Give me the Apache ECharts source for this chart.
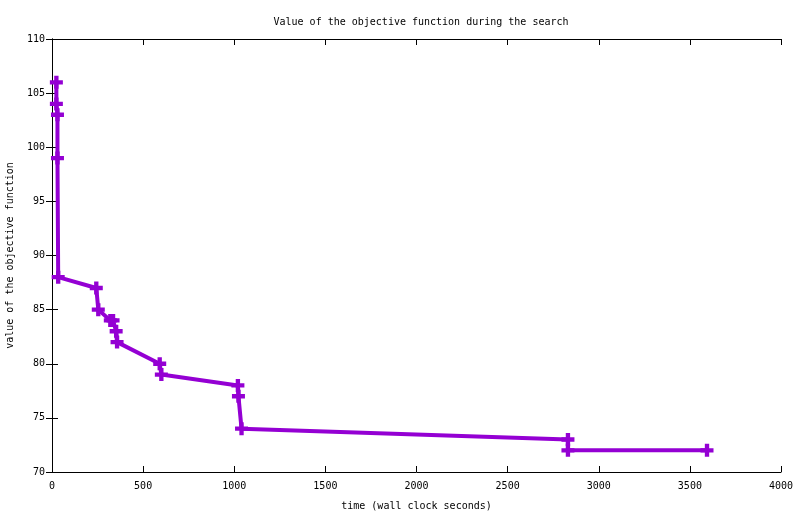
<!DOCTYPE html>
<html>
<head>
<meta charset="utf-8">
<script src="https://cdn.jsdelivr.net/npm/echarts@6/dist/echarts.min.js"></script>
<style>html,body{margin:0;padding:0;background:#fff;}#c{width:800px;height:514px;}</style>
</head>
<body>
<div id="c"></div>
<script>
var times  = [24, 24, 30, 30, 34, 243, 254, 320, 335, 352, 357, 591, 600, 1020, 1023, 1040, 2831, 2831, 3594];
var values = [106, 104, 103, 99, 88, 87, 85, 84, 84, 83, 82, 80, 79, 78, 77, 74, 73, 72, 72];
var titleText = 'Value of the objective function during the search';
var xName = 'time (wall clock seconds)';
var yName = 'value of the objective function';

var font = 'DejaVu Sans Mono';
var data = times.map(function (t, i) { return [t, values[i]]; });
var chart = echarts.init(document.getElementById('c'), null, {renderer: 'canvas'});
var tickStyle = {show: true, inside: true, length: 6, lineStyle: {color: '#000', width: 1}};
var lineStyle = {show: true, lineStyle: {color: '#000', width: 1}};
var plain = function (v) { return String(v); };
chart.setOption({
  animation: false,
  backgroundColor: '#fff',
  title: {
    text: titleText, left: 416, top: 12, textAlign: 'center',
    textStyle: {fontFamily: font, fontSize: 10, fontWeight: 'normal', color: '#000'}
  },
  grid: {left: 52, right: 19, top: 39, bottom: 42, containLabel: false, outerBoundsMode: 'none'},
  xAxis: [{
    type: 'value', min: 0, max: 4000, interval: 500,
    name: xName, nameLocation: 'middle', nameGap: 29,
    nameTextStyle: {fontFamily: font, fontSize: 10, color: '#000'},
    axisLine: lineStyle, axisTick: tickStyle, splitLine: {show: false},
    axisLabel: {fontFamily: font, fontSize: 10, color: '#000', margin: 9, formatter: plain}
  }, {
    type: 'value', min: 0, max: 4000, interval: 500, position: 'top',
    axisLine: lineStyle, axisTick: tickStyle, splitLine: {show: false},
    axisLabel: {show: false}
  }],
  yAxis: [{
    type: 'value', min: 70, max: 110, interval: 5,
    name: yName, nameLocation: 'middle', nameGap: 37,
    nameTextStyle: {fontFamily: font, fontSize: 10, color: '#000'},
    axisLine: lineStyle, axisTick: tickStyle, splitLine: {show: false},
    axisLabel: {fontFamily: font, fontSize: 10, color: '#000', margin: 7, formatter: plain}
  }, {
    type: 'value', min: 70, max: 110, interval: 5, position: 'right',
    axisLine: lineStyle, axisTick: tickStyle, splitLine: {show: false},
    axisLabel: {show: false}
  }],
  series: [{
    type: 'line',
    data: data,
    xAxisIndex: 0, yAxisIndex: 0,
    lineStyle: {color: '#9400D3', width: 4},
    itemStyle: {color: '#9400D3'},
    symbol: 'path://M4,0h4v4h4v4h-4v4h-4v-4h-4v-4h4z',
    symbolSize: 13,
    showAllSymbol: true,
    clip: false
  }]
});
</script>
</body>
</html>
